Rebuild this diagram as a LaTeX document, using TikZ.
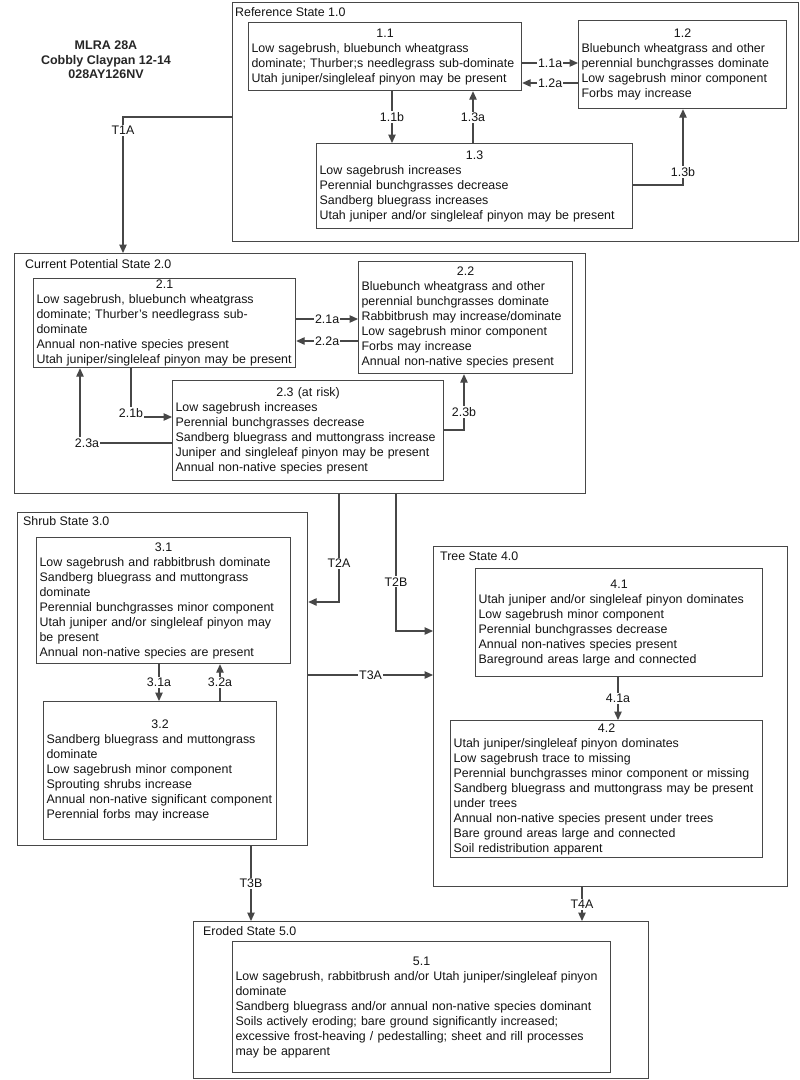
\documentclass[tikz,border=0pt]{standalone}
\usepackage{fontspec}
\setmainfont{Liberation Sans}
\usetikzlibrary{arrows.meta}
\newcommand\dfont{\fontsize{12.4}{15}\selectfont}
\newcommand\ctr[1]{\hspace*{\fill}#1\hspace*{\fill}\null}
\begin{document}
\begin{tikzpicture}[x=1pt,y=-1pt,
  ln/.style={line width=1.2pt, draw=black!72},
  statebox/.style={ln, rectangle, inner sep=0pt, anchor=north west},
  phase/.style={ln, rectangle, anchor=north west, inner xsep=3pt, inner ysep=1pt, align=left, font=\dfont, text=black!92},
  ttl/.style={anchor=base west, inner sep=0pt, font=\dfont, text=black!92},
  lbl/.style={fill=white, inner sep=1.2pt, font=\dfont, text=black!92},
  arr/.style={ln, -{Triangle[length=8.5pt,width=7.5pt]}}
]
\useasboundingbox (0,0) rectangle (800,1080);
\fill[white] (0,0) rectangle (800,1080);

% heading
\node[align=center, font=\bfseries\fontsize{12.5}{14.5}\selectfont, text=black!85] (mlra) at (106,60) {MLRA 28A\\Cobbly Claypan 12-14\\028AY126NV};

% state containers
\node[statebox, minimum width=566pt, minimum height=239pt] (s1) at (232,2) {};
\node[statebox, minimum width=571pt, minimum height=240pt] (s2) at (14,253) {};
\node[statebox, minimum width=290pt, minimum height=333pt] (s3) at (17,512) {};
\node[statebox, minimum width=354pt, minimum height=340pt] (s4) at (433,546) {};
\node[statebox, minimum width=455pt, minimum height=157pt] (s5) at (193,921) {};

\node[ttl] (t1) at (235,16.5) {Reference State 1.0};
\node[ttl] (t2) at (25,268.5) {Current Potential State 2.0};
\node[ttl] (t3) at (23,525.5) {Shrub State 3.0};
\node[ttl] (t4) at (440,560.5) {Tree State 4.0};
\node[ttl] (t5) at (203,935.5) {Eroded State 5.0};

% community phases
\node[phase, text width=267pt, minimum height=68pt] (b11) at (248,22) {\ctr{1.1}\\Low sagebrush, bluebunch wheatgrass\\dominate; Thurber;s needlegrass sub-dominate\\Utah juniper/singleleaf pinyon may be present};
\node[phase, text width=202pt, minimum height=88pt] (b12) at (578,20) {\ctr{1.2}\\Bluebunch wheatgrass and other\\perennial bunchgrasses dominate\\Low sagebrush minor component\\Forbs may increase};
\node[phase, text width=310pt, minimum height=85pt] (b13) at (316,143) {\ctr{1.3}\\Low sagebrush increases\\Perennial bunchgrasses decrease\\Sandberg bluegrass increases\\Utah juniper and/or singleleaf pinyon may be present};

\node[phase, text width=256pt, minimum height=89pt] (b21) at (33,278) {\ctr{2.1}\\Low sagebrush, bluebunch wheatgrass\\dominate; Thurber's needlegrass sub-\\dominate\\Annual non-native species present\\Utah juniper/singleleaf pinyon may be present};
\node[phase, text width=208pt, minimum height=112pt] (b22) at (358,261) {\ctr{2.2}\\Bluebunch wheatgrass and other\\perennial bunchgrasses dominate\\Rabbitbrush may increase/dominate\\Low sagebrush minor component\\Forbs may increase\\Annual non-native species present};
\node[phase, text width=265pt, minimum height=100pt] (b23) at (172,380) {\ctr{2.3 (at risk)}\\Low sagebrush increases\\Perennial bunchgrasses decrease\\Sandberg bluegrass and muttongrass increase\\Juniper and singleleaf pinyon may be present\\Annual non-native species present};

\node[phase, text width=248pt, minimum height=126pt] (b31) at (36,537) {\ctr{3.1}\\Low sagebrush and rabbitbrush dominate\\Sandberg bluegrass and muttongrass\\dominate\\Perennial bunchgrasses minor component\\Utah juniper and/or singleleaf pinyon may\\be present\\Annual non-native species are present};
\node[phase, text width=227pt, minimum height=138pt] (b32) at (43,701) {\ctr{3.2}\\Sandberg bluegrass and muttongrass\\dominate\\Low sagebrush minor component\\Sprouting shrubs increase\\Annual non-native significant component\\Perennial forbs may increase};

\node[phase, text width=281pt, minimum height=108pt] (b41) at (475,568) {\ctr{4.1}\\Utah juniper and/or singleleaf pinyon dominates\\Low sagebrush minor component\\Perennial bunchgrasses decrease\\Annual non-natives species present\\Bareground areas large and connected};
\node[phase, text width=306pt, minimum height=137pt] (b42) at (450,720) {\ctr{4.2}\\Utah juniper/singleleaf pinyon dominates\\Low sagebrush trace to missing\\Perennial bunchgrasses minor component or missing\\Sandberg bluegrass and muttongrass may be present\\under trees\\Annual non-native species present under trees\\Bare ground areas large and connected\\Soil redistribution apparent};

\node[phase, text width=372pt, minimum height=131pt] (b51) at (232,941) {\ctr{5.1}\\Low sagebrush, rabbitbrush and/or Utah juniper/singleleaf pinyon\\dominate\\Sandberg bluegrass and/or annual non-native species dominant\\Soils actively eroding; bare ground significantly increased;\\excessive frost-heaving / pedestalling; sheet and rill processes\\may be apparent};

% pathways within state 1
\draw[arr] (b11.east |- 0,63) -- node[lbl]{1.1a} (b12.west |- 0,63);
\draw[arr] (b12.west |- 0,83) -- node[lbl]{1.2a} (b11.east |- 0,83);
\draw[arr] (b11.south -| 392,0) -- node[lbl]{1.1b} (b13.north -| 392,0);
\draw[arr] (b13.north -| 473,0) -- node[lbl]{1.3a} (b11.south -| 473,0);
\draw[arr] (b13.east |- 0,185) -| node[lbl, pos=0.585]{1.3b} (b12.south -| 683,0);

% T1A
\draw[arr] (s1.west |- 0,117) -| node[lbl, pos=0.55]{T1A} (s2.north -| 123,0);

% pathways within state 2
\draw[arr] (b21.east |- 0,319) -- node[lbl]{2.1a} (b22.west |- 0,319);
\draw[arr] (b22.west |- 0,341) -- node[lbl]{2.2a} (b21.east |- 0,341);
\draw[arr] (b21.south -| 131,0) |- node[lbl, pos=0.5, yshift=4pt]{2.1b} (b23.west |- 0,417);
\draw[arr] (b23.west |- 0,443) -| node[lbl, pos=0.5, xshift=7pt]{2.3a} (b21.south -| 80,0);
\draw[arr] (b23.east |- 0,430) -| node[lbl, pos=0.66]{2.3b} (b22.south -| 464,0);

% transitions from state 2
\draw[arr] (s2.south -| 339,0) |- node[lbl, pos=0.32]{T2A} (s3.east |- 0,602);
\draw[arr] (s2.south -| 396,0) |- node[lbl, pos=0.32]{T2B} (s4.west |- 0,631);

% pathways within state 3
\draw[arr] (b31.south -| 159,0) -- node[lbl]{3.1a} (b32.north -| 159,0);
\draw[arr] (b32.north -| 220,0) -- node[lbl]{3.2a} (b31.south -| 220,0);

% transitions from state 3
\draw[arr] (s3.east |- 0,675) -- node[lbl]{T3A} (s4.west |- 0,675);
\draw[arr] (s3.south -| 251,0) -- node[lbl]{T3B} (s5.north -| 251,0);

% state 4
\draw[arr] (b41.south -| 618,0) -- node[lbl]{4.1a} (b42.north -| 618,0);
\draw[arr] (s4.south -| 582,0) -- node[lbl]{T4A} (s5.north -| 582,0);
\end{tikzpicture}
\end{document}
